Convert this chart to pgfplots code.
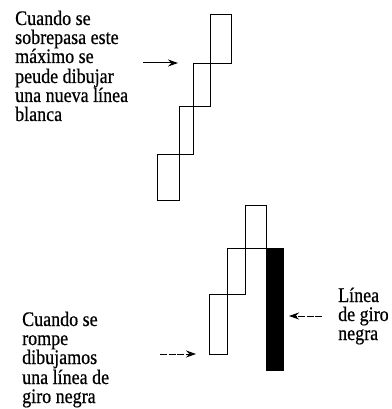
\documentclass[border=0pt]{standalone}
\usepackage{pgfplots}
\pgfplotsset{compat=1.18}
\usepackage{graphicx}
\usepackage{fontspec}
\setmainfont{Liberation Serif}[FakeBold=0.6, BoldFont=Liberation Serif]
\usetikzlibrary{arrows.meta}
\tikzset{lbl/.style={anchor=base west, inner sep=0pt, font=\fontsize{18bp}{19bp}\selectfont}}
\newcommand{\tx}[1]{\scalebox{1}[1.15]{\bfseries #1}}
\begin{document}
\begin{tikzpicture}
\begin{axis}[
  scale only axis, width=392bp, height=409bp,
  xmin=0, xmax=392, ymin=0, ymax=409, y dir=reverse,
  hide axis, clip=false,
  every axis plot/.append style={line width=1bp, line join=miter},
]
% top: rising white lines
\addplot[black] coordinates {(157,154) (179,154) (179,200) (157,200) (157,154)};
\addplot[black] coordinates {(179,107) (193,107) (193,154) (179,154) (179,107)};
\addplot[black] coordinates {(193,64) (210,64) (210,107) (193,107) (193,64)};
\addplot[black] coordinates {(210,15) (231,15) (231,64) (210,64) (210,15)};
% bottom: white lines then black turning line
\addplot[black] coordinates {(209,294) (227,294) (227,354) (209,354) (209,294)};
\addplot[black] coordinates {(227,248) (245,248) (245,294) (227,294) (227,248)};
\addplot[black] coordinates {(245,205) (266,205) (266,248) (245,248) (245,205)};
\addplot[black, fill=black] coordinates {(266,248) (283,248) (283,370) (266,370)} -- cycle;
% arrows
\addplot[black, -{Stealth[length=10bp,width=7bp]}] coordinates {(143,63) (178,63)};
\addplot[black, dash pattern=on 7bp off 1.5bp, -{Stealth[length=10bp,width=7bp]}] coordinates {(160,354) (196,354)};
\addplot[black, dash pattern=on 7bp off 1.5bp, -{Stealth[length=10bp,width=7bp]}] coordinates {(322,316) (289,316)};
% texts
\node[lbl] at (axis cs:15,25) {\tx{Cuando se}};
\node[lbl] at (axis cs:15,44) {\tx{sobrepasa este}};
\node[lbl] at (axis cs:15,63) {\tx{máximo se}};
\node[lbl] at (axis cs:15,83) {\tx{peude dibujar}};
\node[lbl] at (axis cs:15,102) {\tx{una nueva línea}};
\node[lbl] at (axis cs:15,121) {\tx{blanca}};
\node[lbl] at (axis cs:22,326) {\tx{Cuando se}};
\node[lbl] at (axis cs:22,345) {\tx{rompe}};
\node[lbl] at (axis cs:22,364) {\tx{dibujamos}};
\node[lbl] at (axis cs:22,384) {\tx{una línea de}};
\node[lbl] at (axis cs:22,403) {\tx{giro negra}};
\node[lbl] at (axis cs:338,302) {\tx{Línea}};
\node[lbl] at (axis cs:338,321) {\tx{de giro}};
\node[lbl] at (axis cs:338,340) {\tx{negra}};
\end{axis}
\pgfresetboundingbox
\useasboundingbox (0,0) rectangle (392bp,409bp);
\end{tikzpicture}
\end{document}
